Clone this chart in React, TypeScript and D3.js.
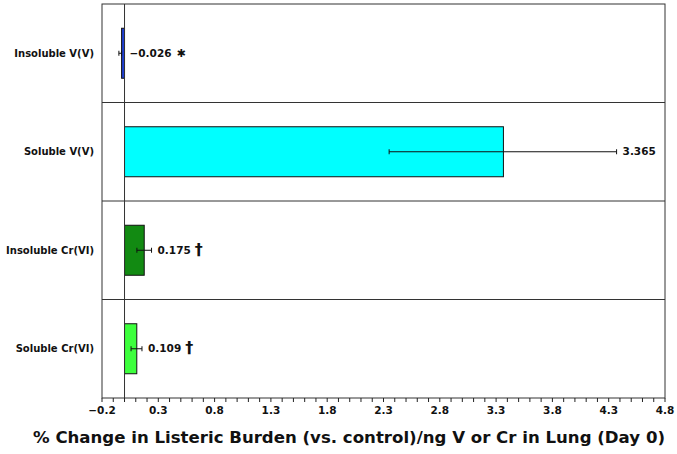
import React from "react";
import * as d3 from "d3";

const categories = ["Insoluble V(V)", "Soluble V(V)", "Insoluble Cr(VI)", "Soluble Cr(VI)"];
const values = [-0.026, 3.365, 0.175, 0.109];
const errLow = [-0.05, 2.35, 0.11, 0.058];
const errHigh = [-0.026, 4.37, 0.24, 0.155];
const valueLabels = ["−0.026", "3.365", "0.175", "0.109"];
const marks = ["✱", "", "†", "†"];
const colors = ["#1f3fd0", "#00ffff", "#128a12", "#3dff3d"];
const tickValues = [-0.2, 0.3, 0.8, 1.3, 1.8, 2.3, 2.8, 3.3, 3.8, 4.3, 4.8];

const W = 677, H = 454;
const L = 102, R = 665, T = 4, B = 398;
const font = "Verdana, 'DejaVu Sans', sans-serif";

export default function App() {
  const x = d3.scaleLinear().domain([-0.2, 4.8]).range([L, R]);
  const y = d3.scaleBand().domain(categories).range([T, B]).paddingInner(0).paddingOuter(0);
  const bw = y.bandwidth();
  const barH = 50;
  const minor = d3.range(-0.2, 4.8001, 0.1);
  return (
    <svg width={W} height={H} style={{ position: "absolute", left: 0, top: 0, background: "#fff" }}>
      <rect x={L} y={T} width={R - L} height={B - T} fill="#fff" stroke="#333" strokeWidth={1} />
      {categories.slice(1).map((c) => (
        <line key={c} x1={L} x2={R} y1={y(c)!} y2={y(c)!} stroke="#333" strokeWidth={1} />
      ))}
      {categories.map((c, i) => {
        const cy = y(c)! + bw / 2;
        const x0 = x(0), x1 = x(values[i]);
        const labelX = Math.max(x1, x(errHigh[i])) + 6;
        return (
          <g key={c}>
            <rect x={Math.min(x0, x1)} y={cy - barH / 2} width={Math.abs(x1 - x0)} height={barH}
              fill={colors[i]} stroke="#111" strokeWidth={1} />
            <line x1={x(errLow[i])} x2={x(errHigh[i])} y1={cy} y2={cy} stroke="#111" strokeWidth={1} />
            <line x1={x(errLow[i])} x2={x(errLow[i])} y1={cy - 2.5} y2={cy + 2.5} stroke="#111" />
            <line x1={x(errHigh[i])} x2={x(errHigh[i])} y1={cy - 2.5} y2={cy + 2.5} stroke="#111" />
            <text x={i === 0 ? x(0) + 5 : labelX} y={cy} dy="0.35em" fontFamily={font} fontWeight="bold" fontSize={10.5} fill="#111">
              {valueLabels[i]}
              {marks[i] && <tspan dx={i === 0 ? 5 : 4} dy={i === 0 ? 0 : 1} fontSize={i === 0 ? 11 : 16}>{marks[i]}</tspan>}
            </text>
            <text x={94} y={cy} dy="0.35em" textAnchor="end" fontFamily={font} fontWeight="bold" fontSize={10} fill="#111">
              {c}
            </text>
          </g>
        );
      })}
      <line x1={x(0)} x2={x(0)} y1={T} y2={B} stroke="#333" strokeWidth={1} />
      {minor.map((v, i) => (
        <line key={i} x1={x(v)} x2={x(v)} y1={B} y2={B + 4} stroke="#222" strokeWidth={1} />
      ))}
      {tickValues.map((v) => (
        <text key={v} x={x(v)} y={B + 16} textAnchor="middle" fontFamily={font} fontWeight="bold" fontSize={10.5} fill="#111">
          {v < 0 ? "−" + Math.abs(v).toFixed(1) : v.toFixed(1)}
        </text>
      ))}
      <text x={349} y={443} textAnchor="middle" fontFamily={font} fontWeight="bold" fontSize={16}
        textLength={632} lengthAdjust="spacingAndGlyphs" fill="#111">
        % Change in Listeric Burden (vs. control)/ng V or Cr in Lung (Day 0)
      </text>
    </svg>
  );
}
